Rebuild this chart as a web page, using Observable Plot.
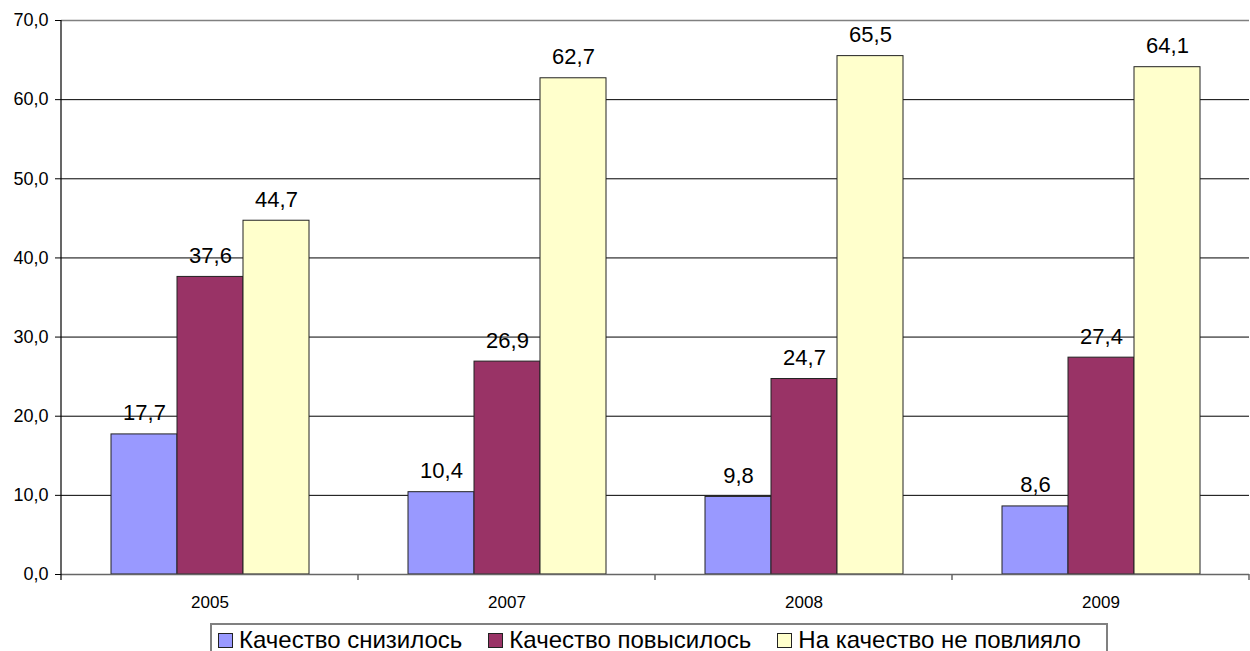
<!DOCTYPE html>
<html>
<head>
<meta charset="utf-8">
<script src="https://cdn.jsdelivr.net/npm/d3@7"></script>
<script src="https://cdn.jsdelivr.net/npm/@observablehq/plot@0.6"></script>
<style>
  html, body { margin: 0; padding: 0; background: #fff; overflow: hidden; }
  body { width: 1250px; height: 651px; font-family: "Liberation Sans", Arial, sans-serif; }
  #legend {
    position: absolute; left: 210px; top: 623px; width: 898px; height: 40px;
    border: 2px solid #808080; box-sizing: border-box; display: flex; align-items: flex-start;
    padding-left: 6px; padding-top: 1px; font-size: 24px; color: #000; white-space: nowrap;
  }
  #legend .item { display: flex; align-items: center; margin-right: 26px; }
  #legend .sw { width: 13px; height: 13px; border: 1px solid #222; margin-right: 6px; }
</style>
</head>
<body>
<div id="chart"></div>
<div id="legend"></div>
<script>
const years = ["2005", "2007", "2008", "2009"];
const series = ["Качество снизилось", "Качество повысилось", "На качество не повлияло"];
const colors = ["#9999FF", "#993366", "#FFFFCC"];
const decreased = [17.7, 10.4, 9.8, 8.6];
const increased = [37.6, 26.9, 24.7, 27.4];
const noEffect = [44.7, 62.7, 65.5, 64.1];
const yTicks = [0, 10, 20, 30, 40, 50, 60, 70];

const seriesValues = [decreased, increased, noEffect];
const data = [];
years.forEach((yr, i) => {
  series.forEach((s, j) => data.push({year: yr, series: s, value: seriesValues[j][i]}));
});

const fmt = v => d3.format(".1f")(v).replace(".", ",");

const chart = Plot.plot({
  width: 1250,
  height: 622,
  marginLeft: 60,
  marginRight: 0,
  marginTop: 20,
  marginBottom: 48,
  style: {fontFamily: "'Liberation Sans', Arial, sans-serif", background: "#fff", color: "#000"},
  fx: {domain: years, padding: 0, label: null},
  x: {domain: series, paddingInner: 0, paddingOuter: 0.75, axis: null},
  y: {domain: [0, 70], label: null},
  color: {domain: series, range: colors},
  marks: [
    Plot.ruleY(yTicks.filter(t => t > 0 && t < 70), {stroke: "#000", strokeWidth: 1}),
    Plot.ruleY([70], {stroke: "#808080", strokeWidth: 1.5}),
    Plot.barY(data, {fx: "year", x: "series", y: "value", fill: "series", stroke: "#222", strokeWidth: 1}),
    Plot.ruleY([0], {stroke: "#666", strokeWidth: 1.5}),
    Plot.text(data, {fx: "year", x: "series", y: "value", text: d => fmt(d.value), lineAnchor: "bottom", dy: -14, fontSize: 22, letterSpacing: "1.5px", fill: "#000"}),
    Plot.axisY({ticks: yTicks, tickFormat: fmt, tickSize: 6, tickPadding: 7, fontSize: 18, label: null, stroke: "#000"}),
    Plot.axisFx({anchor: "bottom", tickSize: 0, tickPadding: 21, fontSize: 17, label: null})
  ]
});

document.getElementById("chart").appendChild(chart);

// Axis line and category boundary ticks via Plot's scales
const svg = d3.select(chart.tagName.toLowerCase() === "svg" ? chart : chart.querySelector("svg"));
const ys = chart.scale("y");
const fxs = chart.scale("fx");
const y0 = ys.apply(0), y70 = ys.apply(70);
const x0 = fxs.apply(years[0]);
svg.append("line").attr("x1", x0).attr("x2", x0).attr("y1", y70).attr("y2", y0 + 6)
  .attr("stroke", "#000").attr("stroke-width", 1.2);
const bounds = years.map(yr => fxs.apply(yr)).concat([fxs.apply(years[years.length - 1]) + fxs.bandwidth]);
bounds.slice(1).forEach(bx => {
  svg.append("line").attr("x1", bx).attr("x2", bx).attr("y1", y0).attr("y2", y0 + 6)
    .attr("stroke", "#666").attr("stroke-width", 1.5);
});

// Legend
const legend = d3.select("#legend");
series.forEach((s, i) => {
  const it = legend.append("div").attr("class", "item");
  it.append("div").attr("class", "sw").style("background", colors[i]);
  it.append("span").text(s);
});
</script>
</body>
</html>
